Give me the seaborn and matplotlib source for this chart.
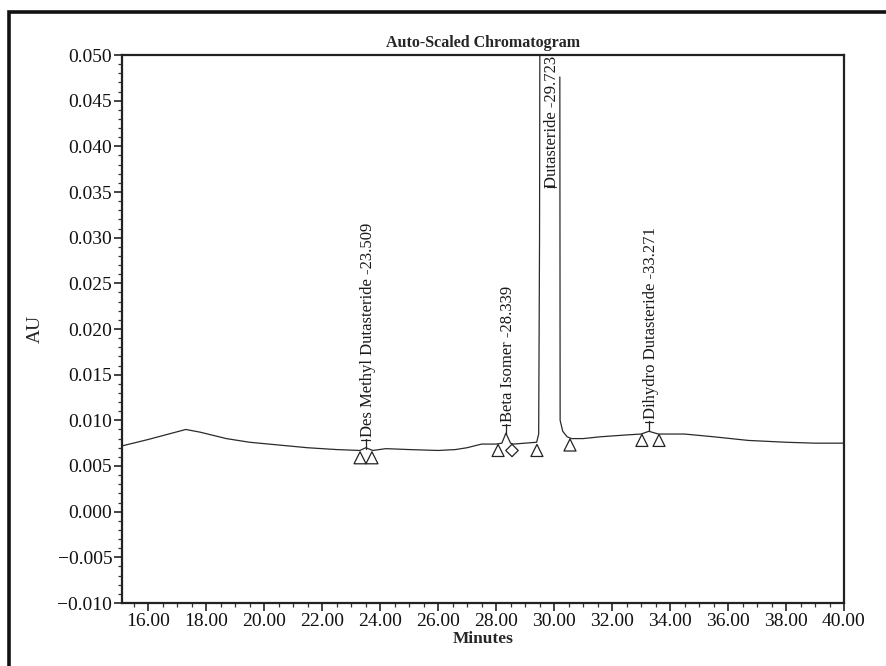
import numpy as np
import pandas as pd
import matplotlib
matplotlib.use("Agg")
import matplotlib.pyplot as plt
import seaborn as sns
from matplotlib.patches import Rectangle
from matplotlib.ticker import MultipleLocator, FuncFormatter

# chromatogram trace (minutes, AU); segment 1 = off-scale break of main peak
TIME = [15.10, 16.00, 17.30, 17.80, 18.70, 19.50, 20.50, 21.50, 22.50, 23.30,
        23.51, 23.75, 24.20, 25.00, 26.00, 26.60, 27.00, 27.50, 28.00, 28.20,
        28.34, 28.50, 28.60, 29.00, 29.40, 29.47, 29.50, 29.52,
        30.20, 30.21, 30.30, 30.45, 30.60, 31.00, 31.60, 32.50, 33.00, 33.27,
        33.60, 34.50, 35.50, 36.70, 38.00, 39.00, 40.00]
AU = [0.0072, 0.0079, 0.0090, 0.0087, 0.0080, 0.0076, 0.0073, 0.0070, 0.0068, 0.0067,
      0.0070, 0.0067, 0.0069, 0.0068, 0.0067, 0.0068, 0.0070, 0.0074, 0.0074, 0.0075,
      0.0086, 0.0075, 0.0074, 0.0075, 0.0076, 0.0085, 0.0300, 0.0700,
      0.0476, 0.0100, 0.0088, 0.0082, 0.0080, 0.0080, 0.0082, 0.0084, 0.0085, 0.0088,
      0.0085, 0.0085, 0.0082, 0.0078, 0.0076, 0.0075, 0.0075]
SEGMENT = [0] * 28 + [1] * 17

# integration markers
TRI_TIME = [23.31, 23.72, 28.07, 29.41, 30.55, 33.03, 33.62]
TRI_AU = [0.0059, 0.0059, 0.0067, 0.0067, 0.0073, 0.0078, 0.0078]
DIA_TIME = [28.55]
DIA_AU = [0.0067]

# peak labels
PEAK_NAMES = ["Des Methyl Dutasteride", "Beta Isomer", "Dutasteride", "Dihydro Dutasteride"]
PEAK_RT = [23.509, 28.339, 29.723, 33.271]
PEAK_APEX = [0.0069, 0.0085, 0.0500, 0.0088]

XTICKS = np.arange(16, 41, 2)
YTICKS = np.arange(-0.010, 0.0501, 0.005)

sns.set_style("ticks")
plt.rcParams["font.family"] = ["Liberation Serif", "DejaVu Serif"]

fig = plt.figure(figsize=(8.87, 6.66), dpi=100)
ax = fig.add_axes([122 / 887, 1 - 603 / 666, (844 - 122) / 887, (603 - 55) / 666])

trace = pd.DataFrame({"t": TIME, "au": AU, "seg": SEGMENT})
sns.lineplot(data=trace, x="t", y="au", units="seg", estimator=None, sort=False,
             color="#2a2a2a", lw=0.9, ax=ax)
sns.scatterplot(x=TRI_TIME, y=TRI_AU, marker="^", s=75, facecolors="none",
                edgecolor="#222222", linewidth=0.9, ax=ax, zorder=3)
sns.scatterplot(x=DIA_TIME, y=DIA_AU, marker="D", s=40, facecolors="none",
                edgecolor="#222222", linewidth=0.9, ax=ax, zorder=3)

for name, rt, apex in zip(PEAK_NAMES, PEAK_RT, PEAK_APEX):
    label = f"{name} -{rt:.3f}"
    if apex >= 0.05:
        ax.text(rt + 0.2, 0.0499, label, rotation=90, ha="center", va="top",
                fontsize=12, color="#1a1a1a")
        ax.plot([rt + 0.05, rt + 0.35], [0.0355, 0.0355], color="#333333", lw=0.8)
        continue
    ax.plot([rt, rt], [apex, apex + 0.0011], color="#222222", lw=0.9)
    ax.plot([rt - 0.15, rt + 0.15], [apex + 0.0010, apex + 0.0010], color="#222222", lw=0.9)
    ax.text(rt + 0.06, apex + 0.0013, label, rotation=90, ha="center", va="bottom",
            fontsize=12, color="#1a1a1a")

ax.set_xlim(15.1, 40.0)
ax.set_ylim(-0.010, 0.050)
ax.set_xticks(XTICKS)
ax.set_yticks(YTICKS)
ax.xaxis.set_minor_locator(MultipleLocator(0.5))
ax.yaxis.set_minor_locator(MultipleLocator(0.001))
ax.xaxis.set_major_formatter(FuncFormatter(lambda v, _: f"{v:.2f}"))
ax.yaxis.set_major_formatter(
    FuncFormatter(lambda v, _: f"{abs(v):.3f}" if abs(v) < 1e-9 else f"{v:.3f}".replace("-", "\u2212")))
ax.tick_params(which="major", direction="out", length=6, width=1.1, labelsize=14,
               pad=1, colors="#111111")
ax.tick_params(which="minor", direction="out", length=3, width=0.9, colors="#333333")
for side in ["top", "right", "left", "bottom"]:
    ax.spines[side].set_visible(True)
    ax.spines[side].set_linewidth(1.6)
    ax.spines[side].set_color("#222222")

ax.set_title("Auto-Scaled Chromatogram", fontsize=11.5, fontweight="bold", pad=6)
ax.set_xlabel("Minutes", fontsize=12.5, fontweight="semibold", labelpad=1)
ax.set_ylabel("AU", fontsize=14, labelpad=10)

# scanned page frame (top and left edges visible)
fig.patches.append(Rectangle((9 / 887, -0.2), 1.2, 1.2 - 12 / 666,
                             transform=fig.transFigure, fill=False,
                             edgecolor="#111111", lw=2.6))

fig.savefig("out.png", dpi=100)
